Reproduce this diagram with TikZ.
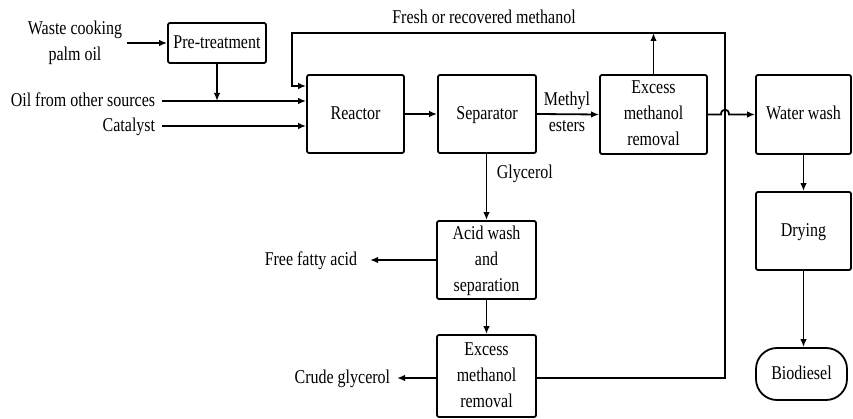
\documentclass[tikz,border=0pt]{standalone}
\usepackage{fontspec}
\setmainfont{Liberation Serif}
\usetikzlibrary{arrows.meta}
\newcommand\tx[1]{\scalebox{0.82}[1]{\begin{tabular}{@{}c@{}}#1\end{tabular}}}
\begin{document}
\begin{tikzpicture}[x=1pt,y=-1pt,
  font=\fontsize{19.5}{26}\selectfont,
  line width=1.8pt,
  box/.style={draw,rectangle,rounded corners=2pt,align=center,inner sep=0pt},
  lab/.style={align=center,inner sep=0pt},
  arr/.style={-{Latex[length=8pt,width=6.5pt]}}]
\useasboundingbox (0,0) rectangle (853,419);
% boxes
\node[box,minimum width=98pt,minimum height=40pt] (pre) at (217,43) {\tx{Pre-treatment}};
\node[box,minimum width=97pt,minimum height=78pt] (reactor) at (355.5,114) {\tx{Reactor}};
\node[box,minimum width=98pt,minimum height=78pt] (sep) at (487,114) {\tx{Separator}};
\node[box,minimum width=107pt,minimum height=79pt] (exc1) at (653.5,114.5) {\tx{Excess\\methanol\\removal}};
\node[box,minimum width=95pt,minimum height=79pt] (wash) at (803.5,114.5) {\tx{Water wash}};
\node[box,minimum width=95pt,minimum height=78pt] (dry) at (803.5,231) {\tx{Drying}};
\node[box,rounded corners=21pt,minimum width=91pt,minimum height=52pt] (bio) at (801.5,374) {\tx{Biodiesel}};
\node[box,minimum width=99pt,minimum height=78pt] (acid) at (486.5,260) {\tx{Acid wash\\and\\separation}};
\node[box,minimum width=99pt,minimum height=82pt] (exc2) at (486.5,376) {\tx{Excess\\methanol\\removal}};
% labels
\node[lab,inner xsep=4pt] (waste) at (75,42.5) {\tx{Waste cooking\\palm oil}};
\node[lab,anchor=east,inner xsep=6pt] (oil) at (162,101) {\tx{Oil from other sources}};
\node[lab,anchor=east,inner xsep=6pt] (cat) at (162,126) {\tx{Catalyst}};
\node[lab] (fresh) at (484,18) {\tx{Fresh or recovered methanol}};
\node[lab] (me) at (567,113) {\tx{Methyl\\esters}};
\node[lab,anchor=west] (gly) at (496,173) {\tx{Glycerol}};
\node[lab,anchor=east,inner xsep=12pt] (ffa) at (370,260) {\tx{Free fatty acid}};
\node[lab,anchor=east,inner xsep=6pt] (crude) at (397,378) {\tx{Crude glycerol}};
% coordinates
\coordinate (tr) at (725,33);
\coordinate (ml) at (292,86);
% connectors
\draw[arr] (waste.east |- pre.west) -- (pre.west);
\draw[arr] (pre.south) -- (pre.south |- oil.east);
\draw[arr] (oil.east) -- (oil.east -| reactor.west);
\draw[arr] (cat.east) -- (cat.east -| reactor.west);
\draw[arr] (exc2.east |- crude.east) -| (tr) -| (ml) -- (ml -| reactor.west);
\draw[arr] (exc1.north) -- (exc1.north |- tr);
\draw[arr] (reactor.east) -- (sep.west);
\draw[arr] (sep.east) -- (exc1.west);
\draw[arr] (exc1.east) -- (721,114.5) .. controls (721,108) and (729,108) .. (729,114.5) -- (wash.west);
\draw[arr] (wash.south) -- (dry.north);
\draw[arr] (dry.south) -- (dry.south |- bio.north);
\draw[arr] (sep.south -| acid.north) -- (acid.north);
\draw[arr] (acid.south) -- (exc2.north);
\draw[arr] (acid.west) -- (ffa.east);
\draw[arr] (exc2.west |- crude.east) -- (crude.east);
\end{tikzpicture}
\end{document}
